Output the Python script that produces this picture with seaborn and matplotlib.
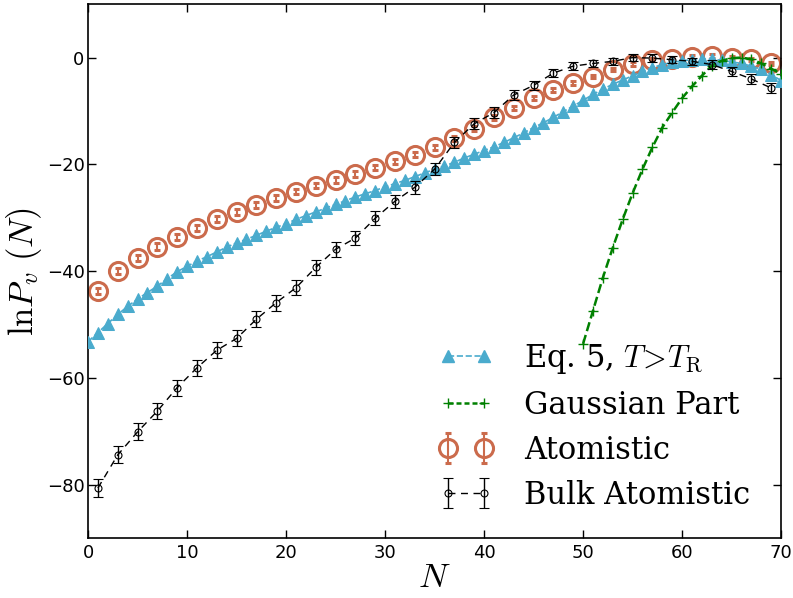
import matplotlib
matplotlib.use('Agg')
import matplotlib.pyplot as plt
import seaborn as sns
import pandas as pd
from matplotlib.lines import Line2D

# dados
n_todos = list(range(0, 71))
n_impar = list(range(1, 70, 2))
n_gauss = list(range(50, 71))

eq5 = [-53.2, -51.5, -49.8, -48.1, -46.6, -45.2, -44.0, -42.8, -41.4, -40.1,
       -39.1, -38.1, -37.3, -36.4, -35.5, -34.7, -34.0, -33.3, -32.5, -31.8,
       -31.1, -30.3, -29.6, -28.9, -28.2, -27.5, -26.8, -26.1, -25.5, -24.9,
       -24.2, -23.6, -23.0, -22.3, -21.6, -20.9, -20.3, -19.6, -18.8, -18.1,
       -17.4, -16.7, -15.9, -15.0, -14.1, -13.1, -12.2, -11.2, -10.1, -9.1,
       -8.0, -6.9, -5.9, -5.0, -4.2, -3.4, -2.6, -1.9, -1.3, -0.9,
       -0.6, -0.4, -0.3, -0.3, -0.5, -0.8, -1.1, -1.6, -2.2, -3.2, -4.3]

gauss = [-53.6, -47.4, -41.2, -35.6, -30.3, -25.4, -20.9, -16.8, -13.1, -10.3,
         -7.6, -5.4, -3.4, -1.5, -0.6, -0.1, 0.0, -0.3, -1.1, -2.1, -3.0]

atom = [-43.7, -40.0, -37.5, -35.4, -33.6, -31.9, -30.2, -28.9, -27.6, -26.3,
        -25.1, -24.0, -22.9, -21.8, -20.6, -19.4, -18.2, -16.8, -15.1, -13.3,
        -11.2, -9.5, -7.6, -6.1, -4.7, -3.6, -2.3, -1.2, -0.4, -0.2,
        0.1, 0.3, 0.0, -0.3, -1.1]
atom_err = [0.6, 0.6, 0.6, 0.6, 0.6, 0.6, 0.6, 0.6, 0.6, 0.6,
            0.5, 0.5, 0.5, 0.5, 0.5, 0.5, 0.5, 0.5, 0.5, 0.5,
            0.4, 0.4, 0.4, 0.4, 0.4, 0.3, 0.3, 0.3, 0.3, 0.3,
            0.3, 0.3, 0.3, 0.3, 0.3]

bulk = [-80.6, -74.4, -70.1, -66.2, -61.8, -58.1, -54.8, -52.6, -49.0, -45.9,
        -43.1, -39.3, -35.9, -33.8, -30.1, -26.9, -24.3, -20.9, -15.9, -12.4,
        -10.3, -7.0, -5.2, -2.9, -1.6, -1.1, -0.7, 0.0, -0.1, -0.4,
        -0.7, -1.3, -2.6, -4.0, -5.7]
bulk_err = [1.6, 1.6, 1.6, 1.5, 1.5, 1.5, 1.5, 1.5, 1.5, 1.5,
            1.4, 1.4, 1.4, 1.3, 1.3, 1.2, 1.2, 1.1, 1.1, 1.0,
            1.0, 0.9, 0.9, 0.8, 0.8, 0.7, 0.7, 0.7, 0.7, 0.7,
            0.7, 0.8, 0.8, 0.9, 1.0]

df_eq5 = pd.DataFrame({'N': n_todos, 'lnP': eq5})
df_gauss = pd.DataFrame({'N': n_gauss, 'lnP': gauss})

azul = '#4aabcd'
laranja = '#cb6b4c'

sns.set_style('ticks')
plt.rcParams['font.family'] = ['DejaVu Serif']
plt.rcParams['mathtext.fontset'] = 'cm'
plt.rcParams['xtick.direction'] = 'in'
plt.rcParams['ytick.direction'] = 'in'
for k in ['text.color', 'axes.labelcolor', 'xtick.color', 'ytick.color',
          'axes.edgecolor']:
    plt.rcParams[k] = 'black'

fig = plt.figure(figsize=(7.93, 5.98), dpi=100)
ax = fig.add_axes([0.111, 0.100, 0.874, 0.893])

# Atomistic
h_atom = ax.errorbar(n_impar, atom, yerr=atom_err, fmt='o', ms=13, mfc='none',
                     mec=laranja, mew=2.2, ecolor=laranja, elinewidth=1.5,
                     capsize=2.5, capthick=1.5, zorder=2)

# Eq. 5
sns.lineplot(data=df_eq5, x='N', y='lnP', ax=ax, color=azul, marker='^',
             markersize=8.5, markeredgecolor=azul, linestyle='--', lw=1.2,
             zorder=3)

# Gaussian
sns.lineplot(data=df_gauss, x='N', y='lnP', ax=ax, color='green', marker='+',
             markersize=7, markeredgewidth=1, markeredgecolor='green',
             linestyle='--', lw=1.8, dashes=(2, 1.2), zorder=4)

# Bulk
h_bulk = ax.errorbar(n_impar, bulk, yerr=bulk_err, fmt='o', ms=5, mfc='none',
                     mec='black', mew=0.8, color='black', ls=(0, (5, 4)),
                     lw=1.0, ecolor='black', elinewidth=1.0, capsize=3.5,
                     capthick=1.0, zorder=5)

ax.set_xlim(0, 70)
ax.set_ylim(-90, 10)
ax.set_xticks([0, 10, 20, 30, 40, 50, 60, 70])
ax.set_yticks([-80, -60, -40, -20, 0])
ax.tick_params(axis='both', which='major', labelsize=13, length=6, width=1,
               top=True, right=True)
ax.tick_params(axis='x', pad=4)
ax.tick_params(axis='y', pad=2.5)
for lab in ax.get_xticklabels() + ax.get_yticklabels():
    lab.set_family('DejaVu Sans')
for s in ax.spines.values():
    s.set_linewidth(1.2)

ax.set_xlabel('$N$', fontsize=25, labelpad=-1)
ax.set_ylabel(r'$\mathrm{ln}P_v\ (N)$', fontsize=25, labelpad=2)

# legenda
h_eq5 = Line2D([], [], color=azul, marker='^', ms=8.5, mec=azul, ls='--', lw=1.2)
h_gauss = Line2D([], [], color='green', marker='+', ms=7, mec='green', ls='--',
                 lw=1.8, dashes=(2, 1.2))
leg = ax.legend([h_eq5, h_gauss, h_atom, h_bulk],
                [r'Eq. 5, $T\!>\!T_{\rm R}$', 'Gaussian Part', 'Atomistic',
                 'Bulk Atomistic'],
                loc='lower right', bbox_to_anchor=(0.995, 0.0), frameon=False,
                fontsize=22, numpoints=2, handlelength=1.8, labelspacing=0.46,
                handletextpad=1.0)

fig.savefig('out.png', dpi=100)
